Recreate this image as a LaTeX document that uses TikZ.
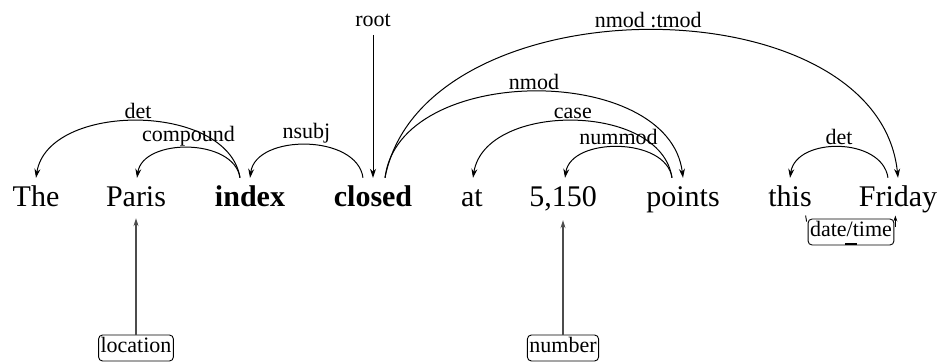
\documentclass[tikz,border=0pt]{standalone}
\usepackage{fontspec}
\setmainfont{Liberation Serif}
\usetikzlibrary{arrows.meta}
\begin{document}
\begin{tikzpicture}[x=1pt,y=-1pt,
  word/.style={anchor=base,inner xsep=0pt,inner ysep=7pt,text height=22pt,text depth=7pt,font=\fontsize{30}{36}\selectfont},
  lbl/.style={font=\fontsize{22}{26}\selectfont,inner sep=1.5pt},
  dep/.style={line width=1pt,-{Stealth[length=9pt,width=6pt]}},
  ent/.style={draw,rounded corners=4pt,line width=0.9pt,font=\fontsize{22}{26}\selectfont,inner xsep=2pt,inner ysep=3pt,text height=15pt,text depth=5pt},
  vline/.style={line width=1.1pt,black!70,-{Stealth[length=8pt,width=5pt]}}]
\useasboundingbox (0,0) rectangle (943,363);
% words
\node[word] (the) at (36,207) {The};
\node[word] (paris) at (136,207) {Paris};
\node[word] (index) at (250,207) {\textbf{index}};
\node[word] (closed) at (373,207) {\textbf{closed}};
\node[word] (at) at (472,207) {at};
\node[word] (num) at (563,207) {5,150};
\node[word] (points) at (683,207) {points};
\node[word] (this) at (790,207) {this};
\node[word] (friday) at (898,207) {Friday};
% root
\node[lbl] (rootlbl) at (373,20) {root};
\coordinate (roottop) at (373,35);
\draw[dep] (roottop) -- (closed.north);
% arcs
\draw[dep] ([xshift=-10pt]index.north) .. controls ([xshift=-22pt,yshift=76pt]index.north) and ([xshift=12pt,yshift=76pt]the.north) .. (the.north)
  node[lbl,pos=0.5,above] {det};
\draw[dep] ([xshift=-10pt]index.north) .. controls ([xshift=-16pt,yshift=40pt]index.north) and ([xshift=7pt,yshift=40pt]paris.north) .. ([xshift=1pt]paris.north)
  node[lbl,pos=0.5,above] {compound};
\draw[dep] ([xshift=-10pt]closed.north) .. controls ([xshift=-16pt,yshift=44pt]closed.north) and ([xshift=6pt,yshift=44pt]index.north) .. (index.north)
  node[lbl,pos=0.5,above] {nsubj};
\draw[dep] ([xshift=12pt]closed.north) .. controls ([xshift=26pt,yshift=115pt]closed.north) and ([xshift=-14pt,yshift=115pt]points.north) .. (points.north)
  node[lbl,pos=0.5,above] {nmod};
\draw[dep] ([xshift=12pt]closed.north) .. controls ([xshift=50pt,yshift=197pt]closed.north) and ([xshift=-20pt,yshift=197pt]friday.north) .. (friday.north)
  node[lbl,pos=0.5,above] {nmod :tmod};
\draw[dep] ([xshift=-11pt]points.north) .. controls ([xshift=-22pt,yshift=76pt]points.north) and ([xshift=13pt,yshift=76pt]at.north) .. ([xshift=1pt]at.north)
  node[lbl,pos=0.5,above] {case};
\draw[dep] ([xshift=-11pt]points.north) .. controls ([xshift=-17pt,yshift=41pt]points.north) and ([xshift=8pt,yshift=41pt]num.north) .. ([xshift=2pt]num.north)
  node[lbl,pos=0.5,above] {nummod};
\draw[dep] ([xshift=-10pt]friday.north) .. controls ([xshift=-16pt,yshift=41pt]friday.north) and ([xshift=6pt,yshift=41pt]this.north) .. (this.north)
  node[lbl,pos=0.5,above] {det};
% entity boxes
\node[ent] (loc) at (136,348) {location};
\node[ent] (number) at (563,348) {number};
\draw[vline] (loc.north) -- ([yshift=3pt]paris.south);
\draw[vline] (number.north) -- ([yshift=1pt]num.south);
\node[ent] (dt) at (851,232) {date/time};
\draw[line width=0.9pt] ([xshift=-1pt,yshift=-3pt]dt.north west) -- ([xshift=-2pt,yshift=3pt]dt.north west);
\draw[line width=0.9pt,-{Stealth[length=6pt,width=4pt]}] ([xshift=1pt,yshift=-8pt]dt.north east) -- ([xshift=1pt,yshift=3pt]dt.north east);
\draw[line width=1.8pt] ([xshift=-6pt,yshift=1.5pt]dt.south) -- ([xshift=6pt,yshift=1.5pt]dt.south);
\end{tikzpicture}
\end{document}
